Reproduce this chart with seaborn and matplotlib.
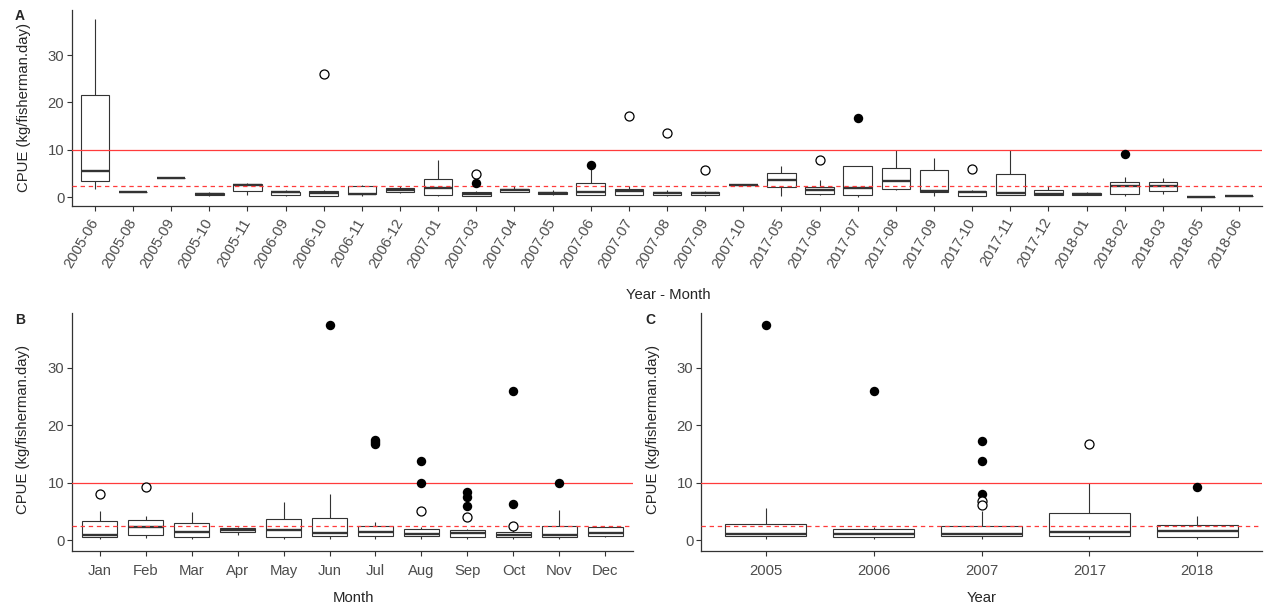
import numpy as np
import pandas as pd
import matplotlib
matplotlib.use("Agg")
import matplotlib.pyplot as plt
import seaborn as sns

# ---------------- Data ----------------
# Panel A: Year - Month
cats_A = ["2005-06", "2005-08", "2005-09", "2005-10", "2005-11", "2006-09", "2006-10",
          "2006-11", "2006-12", "2007-01", "2007-03", "2007-04", "2007-05", "2007-06",
          "2007-07", "2007-08", "2007-09", "2007-10", "2017-05", "2017-06", "2017-07",
          "2017-08", "2017-09", "2017-10", "2017-11", "2017-12", "2018-01", "2018-02",
          "2018-03", "2018-05", "2018-06"]
A_lo  = [1.8, 1.05, 4.0, 0.3, 0.57, 0.2, 0.2, 0.3, 0.95, 0.3, 0.3, 1.05, 0.5, 0.5,
         0.4, 0.2, 0.2, 2.68, 0.3, 0.4, 0.15, 1.5, 0.3, 0.2, 0.4, 0.4, 0.4, 0.3, 0.6, 0.08, 0.2]
A_q1  = [3.5, 1.05, 4.0, 0.4, 1.35, 0.42, 0.3, 0.63, 1.2, 0.57, 0.3, 1.2, 0.7, 0.5,
         0.57, 0.42, 0.42, 2.68, 2.26, 0.78, 0.57, 1.83, 1.05, 0.3, 0.5, 0.5, 0.5, 0.78, 1.35, 0.08, 0.2]
A_med = [5.6, 1.05, 4.0, 0.7, 2.5, 1.0, 0.85, 0.78, 1.62, 1.98, 0.7, 1.5, 0.95, 1.0,
         1.27, 0.8, 0.8, 2.68, 3.67, 1.62, 1.9, 3.5, 1.27, 1.0, 0.9, 0.7, 0.7, 2.33, 2.33, 0.08, 0.2]
A_q3  = [21.5, 1.05, 4.0, 0.93, 2.7, 1.2, 1.35, 2.4, 2.05, 3.9, 1.05, 1.83, 1.2, 3.0,
         1.77, 1.2, 1.2, 2.68, 5.15, 2.26, 6.55, 6.2, 5.7, 1.27, 4.9, 1.55, 0.9, 3.24, 3.24, 0.08, 0.2]
A_hi  = [37.5, 1.05, 4.0, 1.0, 2.95, 1.5, 1.6, 2.5, 2.3, 7.95, 1.4, 2.3, 1.5, 6.75,
         2.4, 1.6, 1.3, 2.68, 6.6, 3.7, 6.55, 10.0, 8.3, 1.5, 10.0, 2.4, 1.15, 4.2, 4.0, 0.08, 0.2]
A_filled_cat = ["2007-03", "2007-06", "2017-07", "2018-02"]
A_filled_val = [3.1, 6.75, 16.8, 9.15]
A_open_cat = ["2006-10", "2007-03", "2007-07", "2007-08", "2007-09", "2017-06", "2017-10"]
A_open_val = [26.1, 4.85, 17.2, 13.65, 5.85, 7.9, 6.05]

# Panel B: Month
cats_B = ["Jan", "Feb", "Mar", "Apr", "May", "Jun", "Jul", "Aug", "Sep", "Oct", "Nov", "Dec"]
B_lo  = [0.3, 0.35, 0.3, 1.0, 0.2, 0.3, 0.3, 0.3, 0.3, 0.3, 0.3, 0.6]
B_q1  = [0.57, 0.86, 0.57, 1.38, 0.57, 0.69, 0.8, 0.69, 0.57, 0.52, 0.57, 0.69]
B_med = [0.92, 2.36, 1.44, 1.72, 1.72, 1.32, 1.38, 1.03, 1.2, 0.98, 0.86, 1.26]
B_q3  = [3.4, 3.45, 3.0, 2.07, 3.68, 3.85, 2.47, 1.95, 1.78, 1.44, 2.47, 2.24]
B_hi  = [5.1, 4.3, 4.9, 2.4, 6.67, 8.05, 3.2, 2.24, 1.95, 1.72, 5.3, 2.4]
B_filled_cat = ["Jun", "Jul", "Jul", "Jul", "Aug", "Aug", "Sep", "Sep", "Sep", "Oct", "Oct", "Nov"]
B_filled_val = [37.4, 17.5, 17.1, 16.7, 13.7, 10.05, 8.45, 7.47, 6.03, 26.0, 6.26, 9.94]
B_open_cat = ["Jan", "Feb", "Aug", "Sep", "Oct"]
B_open_val = [8.0, 9.3, 5.1, 4.08, 2.53]

# Panel C: Year
cats_C = ["2005", "2006", "2007", "2017", "2018"]
C_lo  = [0.3, 0.3, 0.3, 0.3, 0.3]
C_q1  = [0.8, 0.57, 0.75, 0.69, 0.57]
C_med = [1.09, 1.03, 1.03, 1.44, 1.6]
C_q3  = [2.87, 1.95, 2.47, 4.7, 2.64]
C_hi  = [5.63, 2.4, 5.1, 10.0, 4.3]
C_filled_cat = ["2005", "2006", "2007", "2007", "2007", "2018"]
C_filled_val = [37.4, 26.0, 17.3, 13.7, 8.05, 9.25]
C_open_cat = ["2007", "2007", "2017"]
C_open_val = [6.78, 6.15, 16.7]

ref_solid = 10.0
ref_dashed = 2.45

# ---------------- Style ----------------
sns.set_style("ticks")
plt.rcParams["font.family"] = ["Liberation Sans", "DejaVu Sans"]

W, H = 1264, 608
fig = plt.figure(figsize=(W / 100, H / 100), dpi=100)


def rect(l, r, t, b):
    return [l / W, 1 - b / H, (r - l) / W, (b - t) / H]


axA = fig.add_axes(rect(72, 1262, 10, 206))
axB = fig.add_axes(rect(72, 633, 313, 551))
axC = fig.add_axes(rect(701, 1262, 313, 551))

LINE = "#333333"
TICKC = "#4D4D4D"
FS = 10.7


def panel(ax, cats, lo, q1, med, q3, hi, fcat, fval, ocat, oval):
    df = pd.DataFrame({
        "cat": np.repeat(cats, 5),
        "val": np.column_stack([lo, q1, med, q3, hi]).ravel(),
    })
    sns.boxplot(data=df, x="cat", y="val", order=cats, whis=(0, 100),
                showfliers=False, showcaps=False, width=0.75, color="white",
                linecolor=LINE, linewidth=0.8,
                medianprops=dict(linewidth=1.7, color=LINE), ax=ax)
    sns.stripplot(x=fcat, y=fval, order=cats, jitter=False, color="black",
                  size=6.8, linewidth=0, ax=ax, zorder=6)
    sns.stripplot(x=ocat, y=oval, order=cats, jitter=False, color="white",
                  edgecolor="black", linewidth=0.9, size=6.5, ax=ax, zorder=6)
    ax.axhline(ref_solid, color="#FF3B3B", lw=0.9, zorder=5)
    ax.axhline(ref_dashed, color="#FF3B3B", lw=0.9, ls=(0, (3.5, 3)), zorder=5)
    ax.set_xlim(-0.6, len(cats) - 0.4)
    ax.set_ylim(-1.85, 39.5)
    ax.set_yticks([0, 10, 20, 30])
    ax.set_xlabel("")
    ax.set_ylabel("")
    for s in ["top", "right"]:
        ax.spines[s].set_visible(False)
    for s in ["left", "bottom"]:
        ax.spines[s].set_color(LINE)
        ax.spines[s].set_linewidth(0.9)
    ax.tick_params(axis="both", labelsize=FS, labelcolor=TICKC, color=LINE,
                   length=3.5, width=0.8)
    ax.tick_params(axis="y", pad=2)
    ax.tick_params(axis="x", pad=3)


panel(axA, cats_A, A_lo, A_q1, A_med, A_q3, A_hi,
      A_filled_cat, A_filled_val, A_open_cat, A_open_val)
panel(axB, cats_B, B_lo, B_q1, B_med, B_q3, B_hi,
      B_filled_cat, B_filled_val, B_open_cat, B_open_val)
panel(axC, cats_C, C_lo, C_q1, C_med, C_q3, C_hi,
      C_filled_cat, C_filled_val, C_open_cat, C_open_val)

for lab in axA.get_xticklabels():
    lab.set_rotation(60)
    lab.set_ha("right")
    lab.set_va("center")
    lab.set_rotation_mode("anchor")
axA.tick_params(axis="x", pad=6)
axB.tick_params(axis="x", pad=6)
axC.tick_params(axis="x", pad=6)

ylab = "CPUE (kg/fisherman.day)"
fig.text(24 / W, 1 - 108 / H, ylab, rotation=90, ha="center", va="center", fontsize=FS)
fig.text(23 / W, 1 - 430 / H, ylab, rotation=90, ha="center", va="center", fontsize=FS)
fig.text(653 / W, 1 - 430 / H, ylab, rotation=90, ha="center", va="center", fontsize=FS)

fig.text(668 / W, 1 - 295 / H, "Year - Month", ha="center", va="center", fontsize=FS)
fig.text(353 / W, 1 - 598 / H, "Month", ha="center", va="center", fontsize=FS)
fig.text(982 / W, 1 - 598 / H, "Year", ha="center", va="center", fontsize=FS)

fig.text(20 / W, 1 - 16 / H, "A", ha="center", va="center", fontsize=10, fontweight="bold")
fig.text(20 / W, 1 - 320 / H, "B", ha="center", va="center", fontsize=10, fontweight="bold")
fig.text(650 / W, 1 - 320 / H, "C", ha="center", va="center", fontsize=10, fontweight="bold")

fig.savefig("out.png", dpi=100)
